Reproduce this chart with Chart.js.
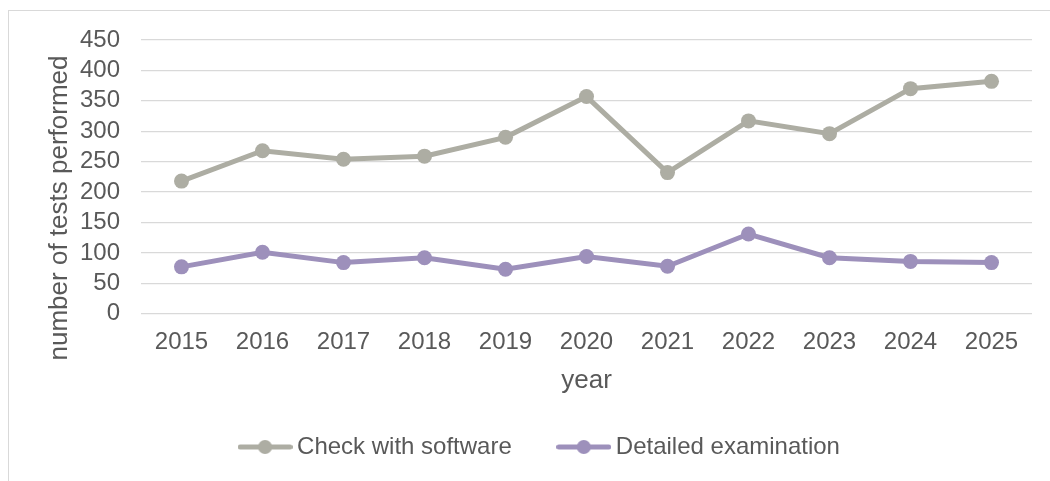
<!DOCTYPE html>
<html>
<head>
<meta charset="utf-8">
<script src="https://cdn.jsdelivr.net/npm/chart.js@4.4.1/dist/chart.umd.min.js"></script>
<style>
    html, body { margin: 0; padding: 0; background: #fff; overflow: hidden; }
    #frame {
        position: absolute; left: 8px; top: 10px;
        width: 1100px; height: 520px;
        border: 1.5px solid #d9d9d9;
    }
    #testsChart { position: absolute; left: 0; top: 0; }
</style>
</head>
<body>
<div id="frame"></div>
<canvas id="testsChart" width="1050" height="481"></canvas>

<script>
const years = ["2015", "2016", "2017", "2018", "2019", "2020", "2021", "2022", "2023", "2024", "2025"];
const softwareChecks = [218, 268, 254, 259, 290, 357, 232, 317, 296, 370, 382];
const detailedExams = [77, 101, 84, 92, 73, 94, 78, 131, 92, 86, 84];
const yTicks = [0, 50, 100, 150, 200, 250, 300, 350, 400, 450];

const GREY = "#adada3";
const PURPLE = "#9d90bb";
const TEXT = "#595959";
const FONT = "'Liberation Sans', Arial, sans-serif";

document.addEventListener("DOMContentLoaded", () => {
    Chart.defaults.font.family = FONT;
    Chart.defaults.color = TEXT;
    buildChart();
});

// little line + dot icon like the Excel legend
function legendIcon(color) {
    const c = document.createElement("canvas");
    c.width = 55;
    c.height = 16;
    const ctx = c.getContext("2d");
    ctx.strokeStyle = color;
    ctx.lineWidth = 5;
    ctx.lineCap = "round";
    ctx.beginPath();
    ctx.moveTo(2.5, 8);
    ctx.lineTo(52.5, 8);
    ctx.stroke();
    ctx.fillStyle = color;
    ctx.beginPath();
    ctx.arc(27.5, 8, 7, 0, Math.PI * 2);
    ctx.fill();
    return c;
}

// axis titles drawn by hand so they sit where Excel put them
const axisTitles = {
    id: "axisTitles",
    afterDraw(chart) {
        const ctx = chart.ctx;
        const area = chart.chartArea;
        ctx.save();
        ctx.fillStyle = TEXT;
        ctx.font = "26px " + FONT;
        ctx.textAlign = "center";
        ctx.textBaseline = "alphabetic";
        ctx.fillText("year", (area.left + area.right) / 2, 388);

        ctx.translate(67, 208);
        ctx.rotate(-Math.PI / 2);
        ctx.fillText("number of tests performed", 0, 0);
        ctx.restore();
    }
};

function buildChart() {
    const ctx = document.getElementById("testsChart").getContext("2d");
    const icons = [legendIcon(GREY), legendIcon(PURPLE)];

    new Chart(ctx, {
        type: "line",
        data: {
            labels: years,
            datasets: [
                {
                    label: "Check with software",
                    data: softwareChecks,
                    borderColor: GREY,
                    backgroundColor: GREY,
                    borderWidth: 5,
                    pointRadius: 7.5,
                    pointBorderWidth: 0,
                    pointHoverRadius: 7.5,
                    tension: 0
                },
                {
                    label: "Detailed examination",
                    data: detailedExams,
                    borderColor: PURPLE,
                    backgroundColor: PURPLE,
                    borderWidth: 5,
                    pointRadius: 7.5,
                    pointBorderWidth: 0,
                    pointHoverRadius: 7.5,
                    tension: 0
                }
            ]
        },
        options: {
            responsive: false,
            animation: false,
            layout: { padding: { top: 40, right: 18, bottom: 12, left: 53 } },
            plugins: {
                tooltip: { enabled: false },
                legend: {
                    position: "bottom",
                    labels: {
                        usePointStyle: true,
                        pointStyleWidth: 40,
                        padding: 52,
                        color: TEXT,
                        font: { size: 24 },
                        generateLabels: (chart) => {
                            const items = Chart.defaults.plugins.legend.labels.generateLabels(chart);
                            items.forEach((item, i) => { item.pointStyle = icons[i]; });
                            return items;
                        }
                    }
                }
            },
            scales: {
                x: {
                    offset: true,
                    grid: { display: false, drawTicks: false },
                    border: { display: false },
                    ticks: { padding: 14, font: { size: 24 }, color: TEXT, maxRotation: 0 },
                    afterFit: (scale) => { scale.height = 69.3; }
                },
                y: {
                    min: 0,
                    max: 450,
                    afterBuildTicks: (scale) => {
                        scale.ticks = yTicks.map(v => ({ value: v }));
                    },
                    grid: { color: "#d9d9d9", lineWidth: 1.3, drawTicks: false },
                    border: { display: false },
                    ticks: { padding: 21, font: { size: 24 }, color: TEXT, autoSkip: false },
                    afterFit: (scale) => { scale.width = 141 - 53; }
                }
            }
        },
        plugins: [axisTitles]
    });
}
</script>
</body>
</html>
